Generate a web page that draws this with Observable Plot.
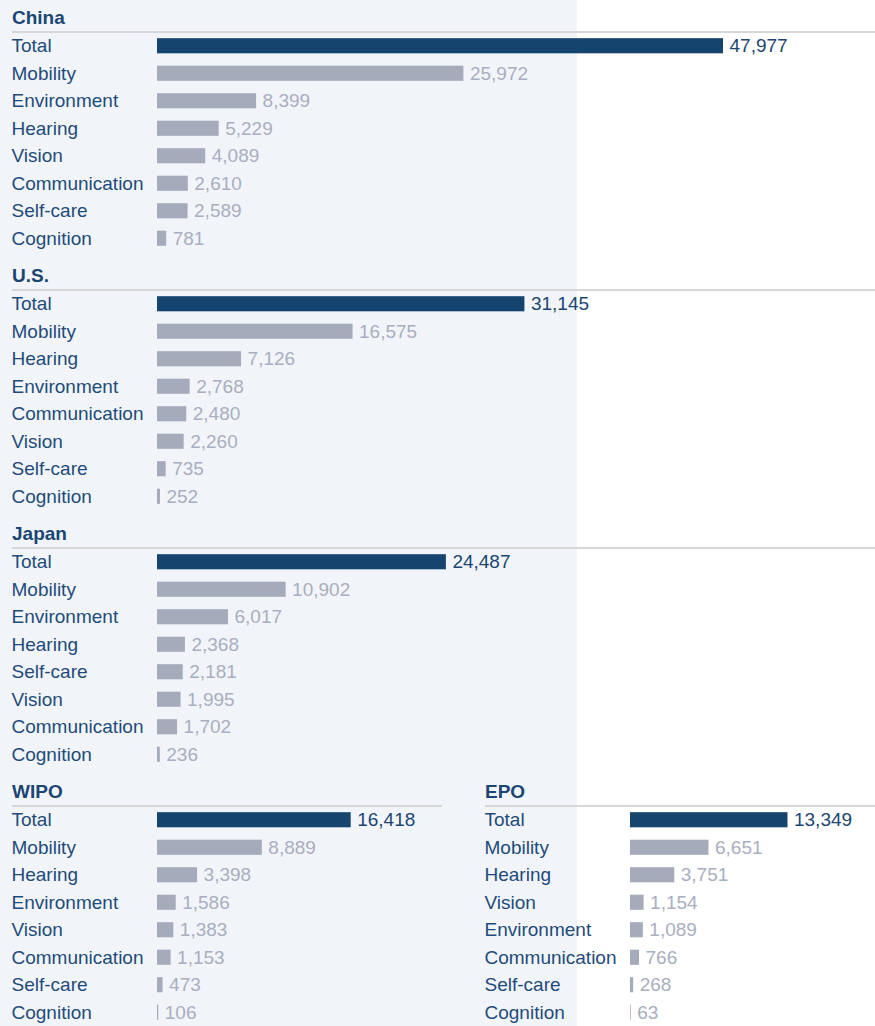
<!DOCTYPE html>
<html>
<head>
<meta charset="utf-8">
<script src="https://cdn.jsdelivr.net/npm/d3@7"></script>
<script src="https://cdn.jsdelivr.net/npm/@observablehq/plot@0.6"></script>
<style>
  html, body { margin: 0; padding: 0; background: #ffffff; }
  #chart {
    position: relative; width: 875px; height: 1026px; overflow: hidden;
    background: linear-gradient(to right, #f1f5f9 0px, #f1f5f9 577px, #ffffff 577px);
    font-family: "Liberation Sans", Arial, sans-serif;
  }
  .title { position: absolute; font-weight: bold; font-size: 19px; line-height: 20px; color: #1b4673; white-space: nowrap; }
  .rule { position: absolute; height: 2px; background: #d6d6d6; }
  .panel { position: absolute; }
</style>
</head>
<body>
<div id="chart"></div>
<script>
// ---- data ----
const panelTitles = ["China", "U.S.", "Japan", "WIPO", "EPO"];

const chinaCats = ["Total","Mobility","Environment","Hearing","Vision","Communication","Self-care","Cognition"];
const chinaVals = [47977, 25972, 8399, 5229, 4089, 2610, 2589, 781];

const usCats = ["Total","Mobility","Hearing","Environment","Communication","Vision","Self-care","Cognition"];
const usVals = [31145, 16575, 7126, 2768, 2480, 2260, 735, 252];

const japanCats = ["Total","Mobility","Environment","Hearing","Self-care","Vision","Communication","Cognition"];
const japanVals = [24487, 10902, 6017, 2368, 2181, 1995, 1702, 236];

const wipoCats = ["Total","Mobility","Hearing","Environment","Vision","Communication","Self-care","Cognition"];
const wipoVals = [16418, 8889, 3398, 1586, 1383, 1153, 473, 106];

const epoCats = ["Total","Mobility","Hearing","Vision","Environment","Communication","Self-care","Cognition"];
const epoVals = [13349, 6651, 3751, 1154, 1089, 766, 268, 63];

// ---- layout ----
const PX_PER_UNIT = 566 / 47977;   // common scale across panels
const BAR_LEFT = 157;
const PLOT_H = 220;
const COLORS = {
  total: "#15446f", other: "#a6abbc",
  totalText: "#1b4673", otherText: "#a9aec0", label: "#1f4b7a"
};

const panels = [
  {title: panelTitles[0], cats: chinaCats, vals: chinaVals, left: 0,   top: 32,  width: 875},
  {title: panelTitles[1], cats: usCats,    vals: usVals,    left: 0,   top: 290, width: 875},
  {title: panelTitles[2], cats: japanCats, vals: japanVals, left: 0,   top: 548, width: 875},
  {title: panelTitles[3], cats: wipoCats,  vals: wipoVals,  left: 0,   top: 806, width: 442},
  {title: panelTitles[4], cats: epoCats,   vals: epoVals,   left: 473, top: 806, width: 402}
];

const chart = document.getElementById("chart");
const fmt = d3.format(",");

for (const p of panels) {
  const data = p.cats.map((c, i) => ({cat: c, value: p.vals[i], total: c === "Total"}));

  const t = document.createElement("div");
  t.className = "title";
  t.textContent = p.title;
  t.style.left = (p.left + 12) + "px";
  t.style.top = (p.top - 24) + "px";
  chart.appendChild(t);

  const r = document.createElement("div");
  r.className = "rule";
  r.style.left = (p.left + 12) + "px";
  r.style.top = (p.top - 1) + "px";
  r.style.width = (p.width - 12) + "px";
  chart.appendChild(r);

  const plot = Plot.plot({
    width: p.width,
    height: PLOT_H,
    marginLeft: BAR_LEFT, marginRight: 0, marginTop: 0, marginBottom: 0,
    style: {background: "transparent", fontFamily: "'Liberation Sans', Arial, sans-serif", fontSize: "19px", overflow: "visible"},
    x: {domain: [0, (p.width - BAR_LEFT) / PX_PER_UNIT], axis: null},
    y: {type: "band", domain: p.cats, paddingInner: 0.45, paddingOuter: 0.225, round: false, axis: null},
    marks: [
      Plot.barX(data.filter(d => d.total), {x: "value", y: "cat", fill: COLORS.total}),
      Plot.barX(data.filter(d => !d.total), {x: "value", y: "cat", fill: COLORS.other}),
      Plot.text(data, {y: "cat", text: "cat", frameAnchor: "left", dx: -146, textAnchor: "start",
        fill: COLORS.label, fontSize: 19}),
      Plot.text(data, {x: "value", y: "cat", text: d => fmt(d.value), dx: 6, textAnchor: "start",
        fill: d => d.total ? COLORS.totalText : COLORS.otherText, fontSize: 19})
    ]
  });
  const wrap = document.createElement("div");
  wrap.className = "panel";
  wrap.style.left = p.left + "px";
  wrap.style.top = p.top + "px";
  wrap.appendChild(plot);
  chart.appendChild(wrap);
}
</script>
</body>
</html>
